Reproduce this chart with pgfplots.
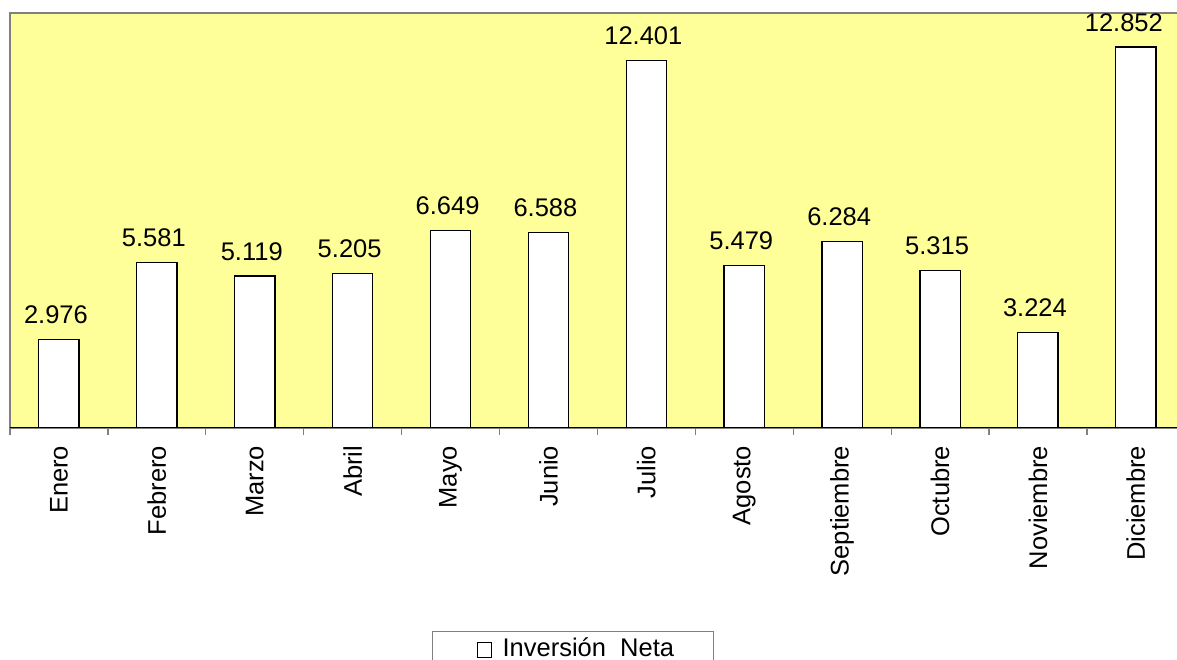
\documentclass[border=0pt]{standalone}
\usepackage{fontspec}
\setmainfont{Liberation Sans}
\usepackage{pgfplots}
\pgfplotsset{compat=1.18}
\definecolor{plotbg}{HTML}{FFFF99}
\definecolor{framegray}{HTML}{808080}
\begin{document}
\begin{tikzpicture}
\path[use as bounding box] (0,0) rectangle (1177bp,660bp);
\begin{axis}[
  at={(10bp,232.3bp)}, anchor=south west,
  scale only axis, width=1174.8bp, height=414.7bp,
  font=\fontsize{25.5bp}{30bp}\selectfont,
  xmin=-0.5, xmax=11.5, ymin=0, ymax=14,
  axis background/.style={fill=plotbg, draw=framegray, line width=1.6bp},
  axis x line*=bottom, axis y line=none,
  x axis line style={-, black, line width=0.9bp},
  xtick={0,...,11},
  xticklabels={Enero,Febrero,Marzo,Abril,Mayo,Junio,Julio,Agosto,Septiembre,Octubre,Noviembre,Diciembre},
  major tick length=0pt, minor tick length=7bp,
  minor xtick={-0.5,0.5,...,11.5},
  tick align=outside,
  minor tick style={framegray, line width=1.2bp},
  xticklabel style={rotate=90, anchor=east, inner sep=0pt, font=\fontsize{25.5bp}{30bp}\selectfont},
  xticklabel shift=18bp,
  ybar, bar width=40.3bp,
  nodes near coords, point meta=explicit symbolic,
  visualization depends on={x \as \xv},
  nodes near coords style={anchor=south, inner sep=0pt, yshift=15bp, xshift={-3bp-9bp*(\xv>10.5)}, black, font=\fontsize{25.5bp}{30bp}\selectfont},
  legend style={at={(0.3592,-0.490)}, anchor=north west, draw=framegray, line width=1bp,
    inner xsep=39bp, inner ysep=6.5bp, nodes={inner sep=0pt},
    font=\fontsize{25.5bp}{30bp}\selectfont,
    /tikz/every odd column/.style={column sep=11bp}},
]
\addplot[draw=black, fill=white, line width=1.3bp,
  legend image code/.code={\path (0bp,0bp);
    \draw[black, fill=white, line width=0.9bp] (5bp,-9bp) rectangle (19bp,5.5bp);}]
  coordinates {(0,2.976)[2.976] (1,5.581)[5.581] (2,5.119)[5.119] (3,5.205)[5.205]
    (4,6.649)[6.649] (5,6.588)[6.588] (6,12.401)[12.401] (7,5.479)[5.479]
    (8,6.284)[6.284] (9,5.315)[5.315] (10,3.224)[3.224] (11,12.852)[12.852]};
\addlegendentry{Inversión\ \ Neta}
\end{axis}
\end{tikzpicture}
\end{document}
